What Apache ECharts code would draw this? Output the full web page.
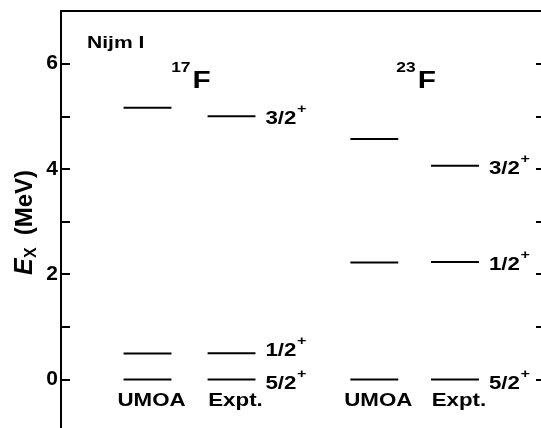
<!DOCTYPE html>
<html>
<head>
<meta charset="utf-8">
<script src="https://cdn.jsdelivr.net/npm/echarts@6/dist/echarts.min.js"></script>
<style>html,body{margin:0;padding:0;background:#fff}#c{width:541px;height:428px}</style>
</head>
<body>
<div id="c"></div>
<script>
// ---- data ----
const modelLabel = 'Nijm I';
const massNumbers = ['17', '23'];
const elementSymbol = 'F';
const columnNames = ['UMOA', 'Expt.', 'UMOA', 'Expt.'];
const columnX = [1, 2, 3.7, 4.66];
const umoa17F = [0, 0.49, 5.16];
const expt17F = [0, 0.495, 5.00];
const umoa23F = [0, 2.22, 4.57];
const expt23F = [0, 2.23, 4.06];
const spins17F = ['5/2', '1/2', '3/2'];
const spins23F = ['5/2', '1/2', '3/2'];
const yTickLabels = [0, 2, 4, 6];

// ---- build ----
const columns = [
  { x: columnX[0], levels: umoa17F, spins: null },
  { x: columnX[1], levels: expt17F, spins: spins17F },
  { x: columnX[2], levels: umoa23F, spins: null },
  { x: columnX[3], levels: expt23F, spins: spins23F }
];
const levelData = [], levelSpin = [];
columns.forEach(c => c.levels.forEach((e, i) => {
  levelData.push([c.x, e]);
  levelSpin.push(c.spins ? c.spins[i] : '');
}));
// per-label vertical nudges (px), to keep adjacent labels apart
const spinNudge = { '0.495': -2, '0': 5 };

const FONT = '"Liberation Sans", Arial, sans-serif';
const SX = 1.24;
const ctx = document.createElement('canvas').getContext('2d');
function tw(t, f) { ctx.font = f; return ctx.measureText(t).width; }
function txt(x, y, text, size, align, vAlign, extra) {
  return Object.assign({
    type: 'text', x: x, y: y, scaleX: SX,
    style: { text: text, font: 'bold ' + size + 'px ' + FONT, fill: '#000', align: align, verticalAlign: vAlign }
  }, extra || {});
}

const HALF = 0.285;
const chart = echarts.init(document.getElementById('c'));
chart.setOption({
  animation: false,
  backgroundColor: '#fff',
  grid: { left: 61, top: 11, width: 483, height: 421, containLabel: false, outerBoundsMode: 'none' },
  xAxis: {
    type: 'value', min: -0.03, max: 5.72, position: 'top',
    axisLine: { show: true, onZero: false, lineStyle: { color: '#000', width: 2 } },
    axisTick: { show: false }, axisLabel: { show: false }, splitLine: { show: false }
  },
  yAxis: [
    {
      type: 'value', min: -1, max: 7, interval: 1, position: 'left',
      axisLine: { show: true, onZero: false, lineStyle: { color: '#000', width: 2 } },
      axisTick: { show: true, inside: true, length: 9, lineStyle: { color: '#000', width: 2 } },
      axisLabel: {
        margin: 3, color: '#000', fontSize: 21, fontWeight: 'bold', fontFamily: FONT,
        formatter: v => yTickLabels.indexOf(v) >= 0 ? String(v) : ''
      },
      splitLine: { show: false }
    },
    {
      type: 'value', min: -1, max: 7, interval: 1, position: 'right',
      axisLine: { show: true, onZero: false, lineStyle: { color: '#000', width: 2 } },
      axisTick: { show: true, inside: true, length: 8, lineStyle: { color: '#000', width: 2 } },
      axisLabel: { show: false }, splitLine: { show: false }
    }
  ],
  series: [
    {
      type: 'custom', name: 'levels', coordinateSystem: 'cartesian2d',
      data: levelData,
      renderItem: function (params, api) {
        const xv = api.value(0), e = api.value(1);
        const p1 = api.coord([xv - HALF, e]);
        const p2 = api.coord([xv + HALF, e]);
        const children = [{
          type: 'line',
          shape: { x1: p1[0], y1: p1[1], x2: p2[0], y2: p2[1] },
          style: { stroke: '#000', lineWidth: 2 }
        }];
        const spin = levelSpin[params.dataIndex];
        if (spin) {
          const nud = spinNudge[String(e)] !== undefined ? spinNudge[String(e)] : 3;
          const lx = p2[0] + 10, ly = p2[1] + nud;
          const w = tw(spin, 'bold 18px ' + FONT) * SX;
          children.push(txt(lx, ly, spin, 18, 'left', 'middle'));
          children.push(txt(lx + w + 0.5, ly - 9.5, '+', 13, 'left', 'middle'));
        }
        return { type: 'group', children: children };
      },
      z: 3
    },
    {
      type: 'custom', name: 'columns', coordinateSystem: 'cartesian2d',
      data: columnX.map(x => [x, 0]),
      renderItem: function (params, api) {
        const p = api.coord([api.value(0), api.value(1)]);
        return txt(p[0] + 4, p[1] + 22, columnNames[params.dataIndex], 18, 'center', 'middle');
      }
    },
    {
      type: 'custom', name: 'nuclei', coordinateSystem: 'cartesian2d',
      data: [[(columnX[0] + columnX[1]) / 2, 7], [(columnX[2] + columnX[3]) / 2, 7]],
      renderItem: function (params, api) {
        const p = api.coord([api.value(0), api.value(1)]);
        return {
          type: 'group', children: [
            txt(p[0] + 1, p[1] + 57, massNumbers[params.dataIndex], 14, 'right', 'middle'),
            txt(p[0] + 3, p[1] + 70.5, elementSymbol, 24, 'left', 'middle')
          ]
        };
      }
    }
  ],
  graphic: [
    txt(87, 43, modelLabel, 17, 'left', 'middle'),
    {
      type: 'group', x: 25, y: 223, rotation: Math.PI / 2,
      children: [
        { type: 'text', x: -52, y: 0, style: { text: 'E', font: 'italic bold 25px ' + FONT, fill: '#000', align: 'left', verticalAlign: 'middle' } },
        { type: 'text', x: -35, y: 7, style: { text: 'X', font: 'bold 16px ' + FONT, fill: '#000', align: 'left', verticalAlign: 'middle' } },
        { type: 'text', x: -19, y: 0, style: { text: ' (MeV)', font: 'bold 24px ' + FONT, fill: '#000', align: 'left', verticalAlign: 'middle' } }
      ]
    }
  ]
});
</script>
</body>
</html>
